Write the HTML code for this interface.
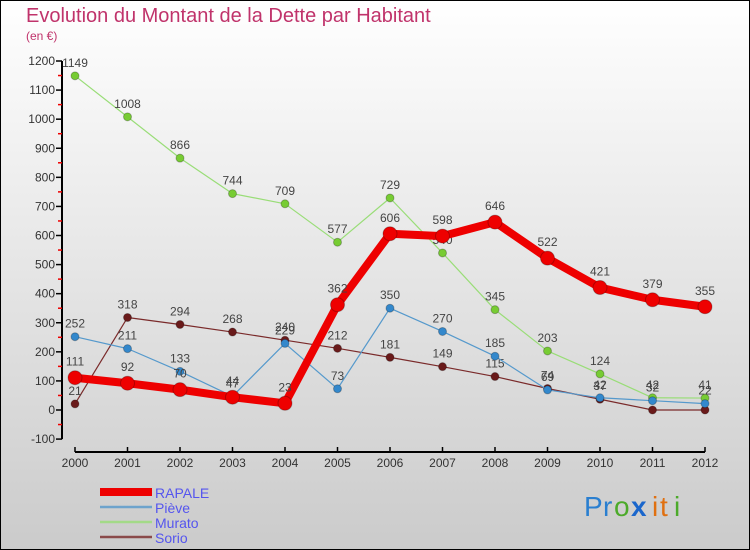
<!DOCTYPE html>
<html><head><meta charset="utf-8">
<style>
html,body{margin:0;padding:0;}
body{width:750px;height:550px;overflow:hidden;font-family:"Liberation Sans",sans-serif;}
svg{display:block;}
</style></head>
<body>
<svg id="chart" width="750" height="550" xmlns="http://www.w3.org/2000/svg">
<defs>
<linearGradient id="bg" x1="0" y1="0" x2="0" y2="1">
<stop offset="0" stop-color="#ffffff"/><stop offset="1" stop-color="#cbcbcb"/>
</linearGradient>
</defs>
<rect x="0" y="0" width="750" height="550" fill="url(#bg)" stroke="#000" stroke-width="2"/>
<text x="26" y="22" font-size="20" fill="#c0336b">Evolution du Montant de la Dette par Habitant</text>
<text x="26" y="40" font-size="12" fill="#c0336b">(en €)</text>
<g id="axes"></g>
<g id="series"></g>
<g id="legend"></g>
<g font-size="28" font-family="'Liberation Sans',sans-serif">
<text x="584" y="516" fill="#2a7fd0">P</text><text x="603" y="516" fill="#2a7fd0">r</text><text x="614" y="516" fill="#4caa2a">o</text><text x="631" y="516" fill="#1a66cc" font-weight="bold">x</text><text x="652" y="516" fill="#e07010">i</text><text x="660" y="516" fill="#e07010">t</text><text x="674" y="516" fill="#4caa2a">i</text>
</g>
</svg>
<script>
const years = [2000,2001,2002,2003,2004,2005,2006,2007,2008,2009,2010,2011,2012];
const yTicks = [-100,0,100,200,300,400,500,600,700,800,900,1000,1100,1200];
const rapale = [111,92,70,44,23,362,606,598,646,522,421,379,355];
const pieve = [252,211,133,47,229,73,350,270,185,69,42,32,22];
const murato = [1149,1008,866,744,709,577,729,540,345,203,124,42,41];
const sorio = [21,318,294,268,240,212,181,149,115,74,37,0,0];
const NS='http://www.w3.org/2000/svg';
function X(i){return 75+i*(630/(years.length-1));}
function Y(v){return 410-v*(349/1200);}
function mk(tag,attrs,parent){const e=document.createElementNS(NS,tag);for(const k in attrs)e.setAttribute(k,attrs[k]);parent.appendChild(e);return e;}
const axes=document.getElementById('axes');
const yl=mk('line',{x1:62,y1:Y(1200),x2:62,y2:Y(-100),stroke:'#000','stroke-width':2},axes);


yTicks.forEach((t,i)=>{
 mk('line',{x1:56,y1:Y(t),x2:62,y2:Y(t),stroke:'#000','stroke-width':1.5},axes);
 if(i<yTicks.length-1) mk('line',{x1:58,y1:Y(t+50),x2:62,y2:Y(t+50),stroke:'#e00','stroke-width':1.5},axes);
 const tx=mk('text',{x:55,y:Y(t)+4,'font-size':12,fill:'#333','text-anchor':'end'},axes);
 
 
 tx.textContent=t;
});
const xl=mk('line',{x1:X(0),y1:452,x2:X(years.length-1),y2:452,stroke:'#000','stroke-width':2},axes);


years.forEach((y,i)=>{
 mk('line',{x1:X(i),y1:447,x2:X(i),y2:452,stroke:'#000','stroke-width':1.5},axes);
 const tx=mk('text',{x:X(i),y:467,'font-size':12,fill:'#333','text-anchor':'middle'},axes);
 
 
 tx.textContent=y;
});
const ser=document.getElementById('series');
const defs=[
 {name:'sorio',data:sorio,color:'#7a2a2a',dot:'#6a1a1a',w:1.2,r:4,label:'Sorio'},
 {name:'murato',data:murato,color:'#99dd77',dot:'#77cc33',w:1.2,r:4,label:'Murato'},
 {name:'pieve',data:pieve,color:'#5599cc',dot:'#3388cc',w:1.2,r:4,label:'Piève'},
 {name:'rapale',data:rapale,color:'#ee0000',dot:'#ee0000',w:8,r:7,label:'RAPALE'}
];
defs.forEach(s=>{
 const g=mk('g',{},ser);
 
 
 const pl=mk('polyline',{points:s.data.map((v,i)=>X(i)+','+Y(v)).join(' '),fill:'none',stroke:s.color,'stroke-width':s.w,'stroke-linejoin':'round'},g);
 
 
 s.data.forEach((v,i)=>{
  const c=mk('circle',{cx:X(i),cy:Y(v),r:s.r,fill:s.dot,stroke:'rgba(0,0,0,0.25)','stroke-width':1},g);
  
  
  if(v!==0){
   const t=mk('text',{x:X(i),y:Y(v)-(s.r+5),'font-size':12,fill:'#444','text-anchor':'middle'},g);
   
   
   t.textContent=v;
  }
 });
});
const lg=document.getElementById('legend');
const order=[defs[3],defs[2],defs[1],defs[0]];
order.forEach((s,i)=>{
 const y=492+i*15;
 const l=mk('line',{x1:100,y1:y,x2:152,y2:y,stroke:s.color,'stroke-width':s.name==='rapale'?8:2.5,opacity:s.name==='rapale'?1:0.8},lg);
 
 
 const t=mk('text',{x:155,y:y+6,'font-size':14,fill:'#5555ee'},lg);
 
 
 t.textContent=s.label;
});
</script>
</body></html>
